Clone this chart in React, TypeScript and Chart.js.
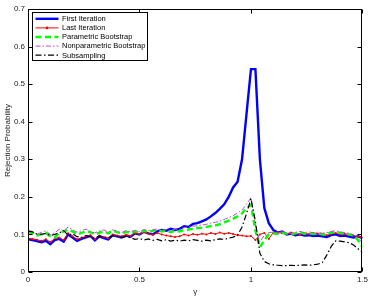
import { useEffect, useRef } from "react";
import { Chart, registerables } from "chart.js";

Chart.register(...registerables);

// gamma grid (x values)
const gamma = [
  0.0, 0.02, 0.04, 0.06, 0.08, 0.1, 0.12, 0.14, 0.16, 0.18,
  0.2, 0.22, 0.24, 0.26, 0.28, 0.3, 0.32, 0.34, 0.36, 0.38,
  0.4, 0.42, 0.44, 0.46, 0.48, 0.5, 0.52, 0.54, 0.56, 0.58,
  0.6, 0.62, 0.64, 0.66, 0.68, 0.7, 0.72, 0.74, 0.76, 0.78,
  0.8, 0.82, 0.84, 0.86, 0.88, 0.9, 0.92, 0.94, 0.96, 0.98,
  1.0, 1.02, 1.04, 1.06, 1.08, 1.1, 1.12, 1.14, 1.16, 1.18,
  1.2, 1.22, 1.24, 1.26, 1.28, 1.3, 1.32, 1.34, 1.36, 1.38,
  1.4, 1.42, 1.44, 1.46, 1.48, 1.5,
];

const firstIteration = [
  0.087, 0.085, 0.082, 0.079, 0.083, 0.074, 0.085, 0.088, 0.081, 0.1,
  0.092, 0.083, 0.088, 0.092, 0.096, 0.084, 0.095, 0.09, 0.087, 0.098,
  0.095, 0.092, 0.097, 0.094, 0.103, 0.1, 0.107, 0.103, 0.1, 0.108,
  0.112, 0.11, 0.115, 0.112, 0.115, 0.122, 0.12, 0.128, 0.13, 0.135,
  0.14, 0.148, 0.157, 0.168, 0.18, 0.2, 0.225, 0.24, 0.3, 0.42,
  0.54, 0.54, 0.3, 0.17, 0.13, 0.112, 0.105, 0.108, 0.1, 0.102,
  0.098, 0.1, 0.097, 0.098, 0.096, 0.097, 0.095, 0.093, 0.098, 0.1,
  0.096, 0.097, 0.094, 0.092, 0.095, 0.09,
];

const lastIteration = [
  0.09, 0.088, 0.086, 0.083, 0.087, 0.08, 0.089, 0.092, 0.085, 0.103,
  0.095, 0.087, 0.091, 0.095, 0.098, 0.088, 0.097, 0.093, 0.09, 0.1,
  0.097, 0.095, 0.099, 0.096, 0.104, 0.101, 0.106, 0.102, 0.099, 0.104,
  0.1, 0.097, 0.095, 0.093, 0.095, 0.1, 0.097, 0.101, 0.099, 0.102,
  0.1, 0.104, 0.101, 0.105, 0.102, 0.104, 0.101, 0.098, 0.097, 0.095,
  0.096, 0.085, 0.1, 0.104, 0.088, 0.105, 0.106, 0.103, 0.101, 0.105,
  0.102, 0.1, 0.103, 0.101, 0.104, 0.102, 0.1, 0.098, 0.101, 0.104,
  0.1, 0.102, 0.099, 0.097, 0.094, 0.092,
];

const parametricBootstrap = [
  0.106, 0.104, 0.097, 0.1, 0.104, 0.095, 0.092, 0.104, 0.108, 0.112,
  0.108, 0.1, 0.104, 0.108, 0.106, 0.1, 0.105, 0.108, 0.103, 0.11,
  0.106, 0.102, 0.107, 0.104, 0.108, 0.105, 0.11, 0.106, 0.11, 0.112,
  0.108, 0.11, 0.106, 0.11, 0.108, 0.112, 0.113, 0.115, 0.117, 0.118,
  0.12, 0.122, 0.124, 0.127, 0.132, 0.137, 0.142, 0.148, 0.156, 0.17,
  0.178, 0.11, 0.066, 0.085, 0.1, 0.103, 0.101, 0.104, 0.102, 0.1,
  0.103, 0.105, 0.102, 0.104, 0.101, 0.103, 0.1, 0.102, 0.105, 0.107,
  0.104, 0.102, 0.1, 0.097, 0.085, 0.066,
];

const nonparametricBootstrap = [
  0.11, 0.108, 0.1, 0.106, 0.11, 0.1, 0.104, 0.114, 0.11, 0.12,
  0.112, 0.106, 0.11, 0.114, 0.108, 0.104, 0.11, 0.112, 0.106, 0.112,
  0.108, 0.105, 0.11, 0.107, 0.111, 0.108, 0.113, 0.11, 0.112, 0.115,
  0.111, 0.113, 0.11, 0.114, 0.113, 0.118, 0.12, 0.122, 0.123, 0.125,
  0.127, 0.13, 0.132, 0.135, 0.14, 0.145, 0.15, 0.157, 0.165, 0.18,
  0.198, 0.125, 0.08, 0.098, 0.105, 0.106, 0.104, 0.107, 0.105, 0.103,
  0.106, 0.108, 0.105, 0.107, 0.104, 0.106, 0.103, 0.105, 0.108, 0.11,
  0.107, 0.105, 0.103, 0.099, 0.09, 0.078,
];

const subsampling = [
  0.109, 0.107, 0.101, 0.1, 0.103, 0.097, 0.1, 0.104, 0.11, 0.098,
  0.102, 0.094, 0.092, 0.097, 0.094, 0.09, 0.096, 0.093, 0.091, 0.097,
  0.095, 0.092, 0.095, 0.091, 0.087, 0.089, 0.085, 0.088, 0.084, 0.087,
  0.083, 0.086, 0.082, 0.085, 0.082, 0.085, 0.083, 0.086, 0.084, 0.082,
  0.085, 0.083, 0.086, 0.088, 0.087, 0.09, 0.093, 0.098, 0.12, 0.155,
  0.195, 0.135, 0.05, 0.028, 0.022, 0.019, 0.018, 0.017, 0.017, 0.018,
  0.017, 0.018, 0.019, 0.018, 0.019, 0.021, 0.025, 0.045, 0.068, 0.083,
  0.082, 0.08, 0.078, 0.072, 0.062, 0.052,
];

const seriesLabels = [
  "First Iteration",
  "Last Iteration",
  "Parametric Bootstrap",
  "Nonparametric Bootstrap",
  "Subsampling",
];

const xTicks = [0, 0.5, 1, 1.5];
const xTickLabels = ["0", "0.5", "1", "1.5"];
const yTicks = [0, 0.1, 0.2, 0.3, 0.4, 0.5, 0.6, 0.7];
const yTickLabels = ["0", "0.1", "0.2", "0.3", "0.4", "0.5", "0.6", "0.7"];
const xTitle = "γ";
const yTitle = "Rejection Probability";

const FONT = "'Liberation Sans', Arial, Helvetica, sans-serif";

const framePlugin = {
  id: "frame",
  afterDatasetsDraw(chart: any) {
    const { ctx, chartArea, scales } = chart;
    const l = Math.round(chartArea.left) + 0.5;
    const r = Math.round(chartArea.right) - 0.5;
    const t = Math.round(chartArea.top) + 0.5;
    const b = Math.round(chartArea.bottom) - 0.5;
    ctx.save();
    ctx.strokeStyle = "#000";
    ctx.lineWidth = 1;
    ctx.setLineDash([]);
    ctx.strokeRect(l, t, r - l, b - t);
    const len = 4;
    ctx.beginPath();
    xTicks.forEach((v) => {
      const px = Math.round(scales.x.getPixelForValue(v)) + 0.5;
      ctx.moveTo(px, b);
      ctx.lineTo(px, b - len);
      ctx.moveTo(px, t);
      ctx.lineTo(px, t + len);
    });
    yTicks.forEach((v) => {
      const py = Math.round(scales.y.getPixelForValue(v)) + 0.5;
      ctx.moveTo(l, py);
      ctx.lineTo(l + len, py);
      ctx.moveTo(r, py);
      ctx.lineTo(r - len, py);
    });
    ctx.stroke();
    ctx.restore();
  },
};

const legendPlugin = {
  id: "boxLegend",
  afterDraw(chart: any) {
    const { ctx, chartArea } = chart;
    const x0 = chartArea.left + 4.5;
    const y0 = chartArea.top + 3.5;
    const w = 115;
    const rowH = 9.1;
    const h = 48;
    ctx.save();
    ctx.fillStyle = "#fff";
    ctx.fillRect(x0, y0, w, h);
    ctx.strokeStyle = "#000";
    ctx.lineWidth = 1;
    ctx.setLineDash([]);
    ctx.strokeRect(x0, y0, w, h);
    chart.data.datasets.forEach((ds: any, i: number) => {
      const cy = y0 + 6.3 + i * rowH;
      const lx0 = x0 + 3;
      const lx1 = x0 + 26;
      ctx.save();
      ctx.strokeStyle = ds.borderColor;
      ctx.lineWidth = ds.borderWidth;
      ctx.setLineDash(ds.borderDash || []);
      ctx.beginPath();
      ctx.moveTo(lx0, cy);
      ctx.lineTo(lx1, cy);
      ctx.stroke();
      if (ds.pointRadius > 0) {
        ctx.setLineDash([]);
        ctx.fillStyle = ds.borderColor;
        ctx.beginPath();
        ctx.arc((lx0 + lx1) / 2, cy, 1.3, 0, Math.PI * 2);
        ctx.fill();
      }
      ctx.restore();
      ctx.fillStyle = "#000";
      ctx.font = `7.5px ${FONT}`;
      ctx.textBaseline = "middle";
      ctx.textAlign = "left";
      ctx.fillText(ds.label, x0 + 29.5, cy + 0.3);
    });
    ctx.restore();
  },
};

function makeData(values: number[]) {
  return gamma.map((g, i) => ({ x: g, y: values[i] }));
}

export default function App() {
  const canvasRef = useRef<HTMLCanvasElement | null>(null);

  useEffect(() => {
    document.body.style.margin = "0";
    const canvas = canvasRef.current;
    if (!canvas) return;
    const chart = new Chart(canvas, {
      type: "line",
      data: {
        datasets: [
          {
            label: seriesLabels[0],
            data: makeData(firstIteration),
            borderColor: "#0000ff",
            borderWidth: 2.4,
            pointRadius: 0,
            borderDash: [],
            order: 5,
          },
          {
            label: seriesLabels[1],
            data: makeData(lastIteration),
            borderColor: "#ff0000",
            backgroundColor: "#ff0000",
            borderWidth: 1,
            pointRadius: 1,
            pointBorderWidth: 0,
            borderDash: [],
            order: 4,
          },
          {
            label: seriesLabels[2],
            data: makeData(parametricBootstrap),
            borderColor: "#00ff00",
            borderWidth: 2.4,
            pointRadius: 0,
            borderDash: [6, 3.5],
            order: 3,
          },
          {
            label: seriesLabels[3],
            data: makeData(nonparametricBootstrap),
            borderColor: "#c050c8",
            borderWidth: 1,
            pointRadius: 0,
            borderDash: [5, 2, 1.5, 2],
            order: 2,
          },
          {
            label: seriesLabels[4],
            data: makeData(subsampling),
            borderColor: "#000000",
            borderWidth: 1.2,
            pointRadius: 0,
            borderDash: [6, 2.5, 1.5, 2.5],
            order: 1,
          },
        ] as any,
      },
      options: {
        responsive: false,
        animation: false,
        devicePixelRatio: 1,
        layout: { padding: { left: 0, top: 9, right: 8, bottom: 0 } },
        plugins: {
          legend: { display: false },
          tooltip: { enabled: false },
        },
        elements: { line: { tension: 0 } },
        scales: {
          x: {
            type: "linear",
            min: 0,
            max: 1.5,
            afterBuildTicks: (axis: any) => {
              axis.ticks = xTicks.map((v) => ({ value: v }));
            },
            afterFit: (axis: any) => {
              axis.height = 26;
            },
            ticks: {
              autoSkip: false,
              maxRotation: 0,
              padding: 3,
              color: "#222",
              font: { family: FONT, size: 8 },
              callback: (v: any) => {
                const idx = xTicks.indexOf(Number(v));
                return idx >= 0 ? xTickLabels[idx] : "";
              },
            },
            grid: { display: false, drawTicks: false },
            border: { display: false },
            title: {
              display: true,
              text: xTitle,
              color: "#222",
              font: { family: FONT, size: 8 },
              padding: { top: 0, bottom: 1 },
            },
          },
          y: {
            type: "linear",
            min: 0,
            max: 0.7,
            afterBuildTicks: (axis: any) => {
              axis.ticks = yTicks.map((v) => ({ value: v }));
            },
            afterFit: (axis: any) => {
              axis.width = 28;
            },
            ticks: {
              autoSkip: false,
              padding: 3,
              color: "#222",
              font: { family: FONT, size: 8 },
              callback: (v: any) => {
                const idx = yTicks.findIndex((t) => Math.abs(t - Number(v)) < 1e-9);
                return idx >= 0 ? yTickLabels[idx] : "";
              },
            },
            grid: { display: false, drawTicks: false },
            border: { display: false },
            title: {
              display: true,
              text: yTitle,
              color: "#222",
              font: { family: FONT, size: 8 },
              padding: { top: 3, bottom: 0 },
            },
          },
        },
      } as any,
      plugins: [framePlugin, legendPlugin],
    });
    return () => chart.destroy();
  }, []);

  return (
    <div style={{ width: 371, height: 298, position: "relative", background: "#fff" }}>
      <canvas ref={canvasRef} width={371} height={298} style={{ display: "block" }} />
    </div>
  );
}
